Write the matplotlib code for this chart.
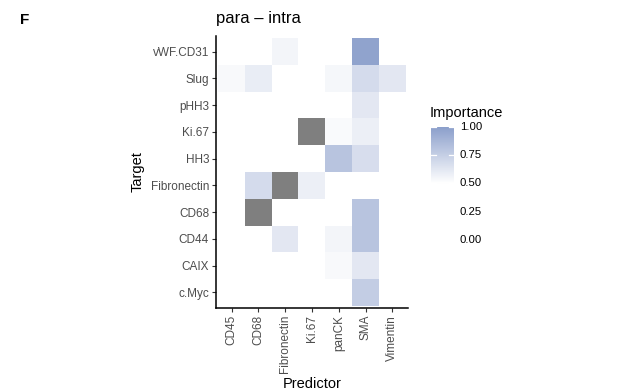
import matplotlib
matplotlib.use("Agg")
import matplotlib.pyplot as plt
import numpy as np
from matplotlib.colors import LinearSegmentedColormap, Normalize

plt.rcParams["font.family"] = ["Liberation Sans", "DejaVu Sans"]

# data: rows = targets (top to bottom), cols = predictors
predictors = ["CD45", "CD68", "Fibronectin", "Ki.67", "panCK", "SMA", "Vimentin"]
targets = ["vWF.CD31", "Slug", "pHH3", "Ki.67", "HH3",
           "Fibronectin", "CD68", "CD44", "CAIX", "c.Myc"]
na = np.nan
imp_vwf = [0.0, 0.0, 0.55, 0.0, 0.0, 0.97, 0.0]
imp_slug = [0.53, 0.59, 0.0, 0.0, 0.54, 0.68, 0.62]
imp_phh3 = [0.0, 0.0, 0.0, 0.0, 0.0, 0.62, 0.0]
imp_ki67 = [0.0, 0.0, 0.0, na, 0.52, 0.58, 0.0]
imp_hh3 = [0.0, 0.0, 0.0, 0.0, 0.80, 0.67, 0.0]
imp_fibro = [0.0, 0.68, na, 0.58, 0.0, 0.0, 0.0]
imp_cd68 = [0.0, na, 0.0, 0.0, 0.0, 0.80, 0.0]
imp_cd44 = [0.0, 0.0, 0.62, 0.0, 0.55, 0.80, 0.0]
imp_caix = [0.0, 0.0, 0.0, 0.0, 0.53, 0.62, 0.0]
imp_cmyc = [0.0, 0.0, 0.0, 0.0, 0.0, 0.75, 0.0]
legend_ticks = [0.0, 0.25, 0.5, 0.75, 1.0]

values = np.array([imp_vwf, imp_slug, imp_phh3, imp_ki67, imp_hh3,
                   imp_fibro, imp_cd68, imp_cd44, imp_caix, imp_cmyc])

cmap = LinearSegmentedColormap.from_list(
    "imp", [(0.0, "#ffffff"), (0.5, "#ffffff"), (1.0, "#8a9ecb")])
cmap.set_bad("#7f7f7f")
norm = Normalize(vmin=0.0, vmax=1.0)

W, H = 623, 391
fig = plt.figure(figsize=(W / 100, H / 100), dpi=100)

# main panel
ax = fig.add_axes([216 / W, 1 - 308 / H, 192 / W, 272 / H])
ax.imshow(np.ma.masked_invalid(values), cmap=cmap, norm=norm,
          aspect="auto", interpolation="nearest")
ax.set_xlim(-0.58, len(predictors) - 0.42)
ax.set_ylim(len(targets) - 0.42, -0.58)
ax.set_xticks(range(len(predictors)))
ax.set_xticklabels(predictors, rotation=90, ha="center", va="top")
ax.set_yticks(range(len(targets)))
ax.set_yticklabels(targets)
ax.tick_params(axis="both", labelsize=8.5, labelcolor="#4d4d4d",
               color="#333333", length=3, width=0.8, pad=2)
for side in ["top", "right"]:
    ax.spines[side].set_visible(False)
for side in ["left", "bottom"]:
    ax.spines[side].set_linewidth(1.1)
    ax.spines[side].set_color("black")
ax.set_xlabel("Predictor", fontsize=10.5, labelpad=3)
ax.set_ylabel("Target", fontsize=10.5, labelpad=4)
ax.set_title("para \u2013 intra", fontsize=12, loc="left", pad=9)

fig.text(20 / W, 1 - 20 / H, "F", fontsize=11, fontweight="bold",
         ha="left", va="center")

# legend colour bar
cax = fig.add_axes([431 / W, 1 - 240 / H, 23 / W, 113.5 / H])
grad = np.linspace(0, 1, 200).reshape(-1, 1)
cax.imshow(grad, cmap=cmap, norm=norm, aspect="auto", origin="lower",
           extent=[0, 1, 0, 1])
cax.set_xlim(0, 1)
cax.set_ylim(0, 1)
cax.axis("off")
for t in legend_ticks:
    cax.plot([0, 0.2], [t, t], color="white", lw=0.9)
    cax.plot([0.8, 1.0], [t, t], color="white", lw=0.9)
    cax.text(1.25, t, f"{t:.2f}", fontsize=8.2, ha="left", va="center",
             transform=cax.transData, clip_on=False)
fig.text(430 / W, 1 - 113 / H, "Importance", fontsize=10.5, ha="left",
         va="center")

fig.savefig("out.png", dpi=100)
